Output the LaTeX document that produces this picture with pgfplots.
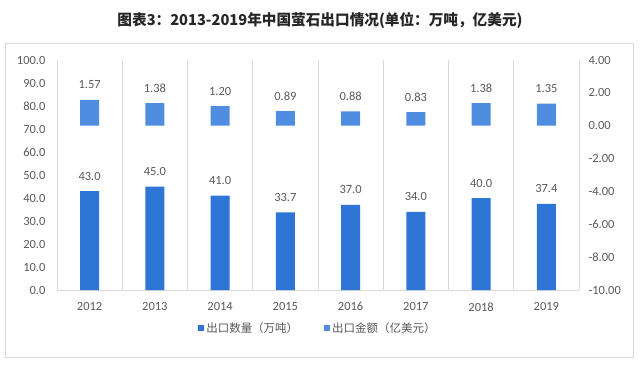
\documentclass[border=0pt]{standalone}
\usepackage{pgfplots}
\pgfplotsset{compat=1.18}
\usepackage{fontspec}
\setmainfont{Carlito}
\newfontfamily\cjk{Noto Sans CJK SC}
\definecolor{qty}{RGB}{46,117,214}
\definecolor{val}{RGB}{79,141,224}
\definecolor{txt}{RGB}{89,89,89}
\definecolor{gridc}{RGB}{217,217,217}
\begin{document}
\begin{tikzpicture}[x=1pt,y=1pt]
\path[use as bounding box] (0,0) rectangle (640,365);
\draw[gridc, line width=0.8pt] (5,8) rectangle (633,322);
\node[font=\cjk\bfseries\fontsize{15}{17}\selectfont, text=black!85] at (320,345) {\resizebox{405pt}{\height}{图表3：2013-2019年中国萤石出口情况(单位：万吨，亿美元)}};
\begin{axis}[
  at={(57pt,75pt)}, anchor=south west,
  scale only axis, width=522pt, height=230pt,
  xmin=-0.5, xmax=7.5, ymin=0, ymax=100,
  axis x line*=bottom, axis y line*=left,
  x axis line style={draw=gridc, line width=0.8pt, -},
  y axis line style={draw=none},
  xtick={0,...,7}, xticklabels={2012,2013,2014,2015,2016,2017,2018,2019},
  ytick={0,10,...,100},
  yticklabels={0.0,10.0,20.0,30.0,40.0,50.0,60.0,70.0,80.0,90.0,100.0},
  minor xtick={-0.5,0.5,...,7.5},
  xminorgrids=true,
  minor grid style={gridc, line width=0.8pt},
  major tick length=0pt, minor tick length=0pt,
  tick label style={font=\fontsize{12.5}{14}\selectfont, text=txt},
  xticklabel style={yshift=-9pt},
  yticklabel style={xshift=-8pt},
  ybar, bar width=19pt,
  nodes near coords,
  point meta=explicit symbolic,
  nodes near coords style={font=\fontsize{12.5}{14}\selectfont, text=txt, anchor=center, yshift=15pt},
  legend style={at={(0.5,-0.165)}, anchor=center, draw=none, fill=none,
    font=\cjk\fontsize{11.5}{13}\selectfont, text=txt,
    legend columns=2,
    /tikz/every even column/.append style={column sep=24pt}},
  legend image code/.code={\fill[#1] (0pt,-3pt) rectangle (6pt,3pt);},
]
\addplot[fill=qty, draw=none] coordinates {
  (0,43.0) [43.0] (1,45.0) [45.0] (2,41.0) [41.0] (3,33.7) [33.7]
  (4,37.0) [37.0] (5,34.0) [34.0] (6,40.0) [40.0] (7,37.4) [37.4]};
\addlegendentry{出口数量（万吨）}
\addlegendimage{fill=val, draw=none}
\addlegendentry{出口金额（亿美元）}
\end{axis}
\begin{axis}[
  at={(57pt,75pt)}, anchor=south west,
  scale only axis, width=522pt, height=230pt,
  xmin=-0.5, xmax=7.5, ymin=-10, ymax=4,
  axis x line=none, axis y line*=right,
  y axis line style={draw=none},
  ytick={-10,-8,...,4},
  yticklabels={-10.00,-8.00,-6.00,-4.00,-2.00,0.00,2.00,4.00},
  major tick length=0pt,
  tick label style={font=\fontsize{12.5}{14}\selectfont, text=txt},
  yticklabel style={xshift=6pt},
  ybar, bar width=19pt,
  nodes near coords,
  point meta=explicit symbolic,
  nodes near coords style={font=\fontsize{12.5}{14}\selectfont, text=txt, anchor=center, yshift=15pt},
]
\addplot[fill=val, draw=none] coordinates {
  (0,1.57) [1.57] (1,1.38) [1.38] (2,1.20) [1.20] (3,0.89) [0.89]
  (4,0.88) [0.88] (5,0.83) [0.83] (6,1.38) [1.38] (7,1.35) [1.35]};
\end{axis}
\end{tikzpicture}
\end{document}
